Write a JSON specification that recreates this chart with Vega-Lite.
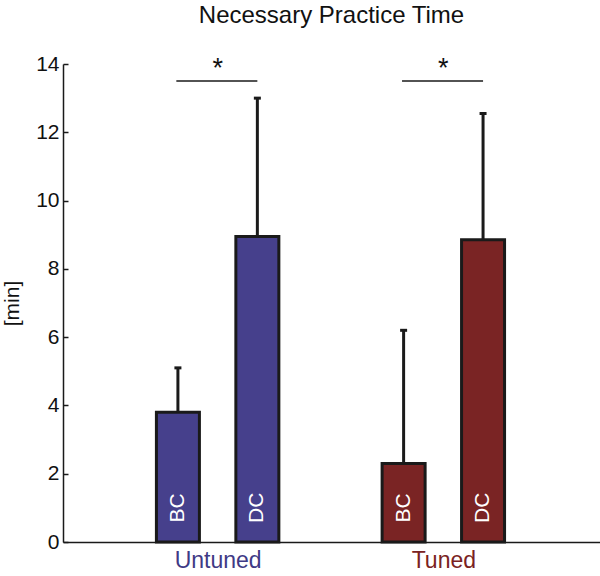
{
  "$schema": "https://vega.github.io/schema/vega-lite/v6.json",
  "width": 537,
  "height": 478,
  "autosize": "none",
  "padding": {"left": 63, "top": 64, "right": 0, "bottom": 34},
  "background": "white",
  "title": {"text": "Necessary Practice Time", "fontSize": 24, "font": "Liberation Sans", "fontWeight": "normal", "color": "#111111", "offset": 25, "anchor": "middle"},
  "config": {"view": {"stroke": null}, "font": "Liberation Sans"},
  "datasets": {
    "bars": [
      {"group": "Untuned", "cond": "BC", "pos": 0.824, "mean": 3.8, "upper": 5.1, "lab": 1.0},
      {"group": "Untuned", "cond": "DC", "pos": 1.176, "mean": 8.95, "upper": 13.0, "lab": 1.0},
      {"group": "Tuned", "cond": "BC", "pos": 1.824, "mean": 2.3, "upper": 6.2, "lab": 1.0},
      {"group": "Tuned", "cond": "DC", "pos": 2.176, "mean": 8.85, "upper": 12.55, "lab": 1.0}
    ],
    "sig": [
      {"x1": 0.817, "x2": 1.176, "xm": 1.0, "y": 13.5, "ys": 13.85, "star": "*"},
      {"x1": 1.817, "x2": 2.176, "xm": 2.0, "y": 13.5, "ys": 13.85, "star": "*"}
    ]
  },
  "layer": [
    {
      "data": {"name": "bars"},
      "mark": {"type": "bar", "size": 43, "stroke": "#1a1a1a", "strokeWidth": 3},
      "encoding": {
        "x": {"field": "pos", "type": "quantitative", "scale": {"domain": [0.337, 2.672], "nice": false, "zero": false},
          "axis": {"values": [1, 2], "labelExpr": "datum.value == 1 ? 'Untuned' : 'Tuned'", "ticks": false, "grid": false, "title": null, "domainColor": "#1a1a1a", "domainWidth": 1.5, "labelFontSize": 23, "labelFont": "Liberation Sans", "labelPadding": 7,
            "labelColor": {"condition": {"test": "datum.value == 1", "value": "#3f3a85"}, "value": "#7a2222"}}},
        "y": {"field": "mean", "type": "quantitative", "scale": {"domain": [0, 14], "nice": false},
          "axis": {"values": [0, 2, 4, 6, 8, 10, 12, 14], "grid": false, "tickSize": -5, "tickColor": "#1a1a1a", "tickWidth": 1.5, "domainColor": "#1a1a1a", "domainWidth": 1.5, "labelFontSize": 21, "labelColor": "#111111", "labelPadding": 9, "title": "[min]", "titleFontSize": 21, "titleFontWeight": "normal", "titleColor": "#111111", "titlePadding": 13}},
        "color": {"field": "group", "type": "nominal", "scale": {"domain": ["Untuned", "Tuned"], "range": ["#46408c", "#7a2424"]}, "legend": null}
      }
    },
    {
      "data": {"name": "bars"},
      "mark": {"type": "rule", "strokeWidth": 3, "color": "#1a1a1a"},
      "encoding": {
        "x": {"field": "pos", "type": "quantitative"},
        "y": {"field": "mean", "type": "quantitative"},
        "y2": {"field": "upper"}
      }
    },
    {
      "data": {"name": "bars"},
      "mark": {"type": "tick", "orient": "horizontal", "size": 7, "thickness": 3, "color": "#1a1a1a", "opacity": 1},
      "encoding": {
        "x": {"field": "pos", "type": "quantitative"},
        "y": {"field": "upper", "type": "quantitative"}
      }
    },
    {
      "data": {"name": "bars"},
      "mark": {"type": "text", "angle": 270, "color": "white", "fontSize": 21, "align": "center", "baseline": "middle"},
      "encoding": {
        "x": {"field": "pos", "type": "quantitative"},
        "y": {"field": "lab", "type": "quantitative"},
        "text": {"field": "cond"}
      }
    },
    {
      "data": {"name": "sig"},
      "mark": {"type": "rule", "strokeWidth": 1.5, "color": "#1a1a1a"},
      "encoding": {
        "x": {"field": "x1", "type": "quantitative"},
        "x2": {"field": "x2"},
        "y": {"field": "y", "type": "quantitative"}
      }
    },
    {
      "data": {"name": "sig"},
      "mark": {"type": "text", "fontSize": 27, "color": "#111111", "align": "center", "baseline": "middle"},
      "encoding": {
        "x": {"field": "xm", "type": "quantitative"},
        "y": {"field": "ys", "type": "quantitative"},
        "text": {"field": "star"}
      }
    }
  ]
}
